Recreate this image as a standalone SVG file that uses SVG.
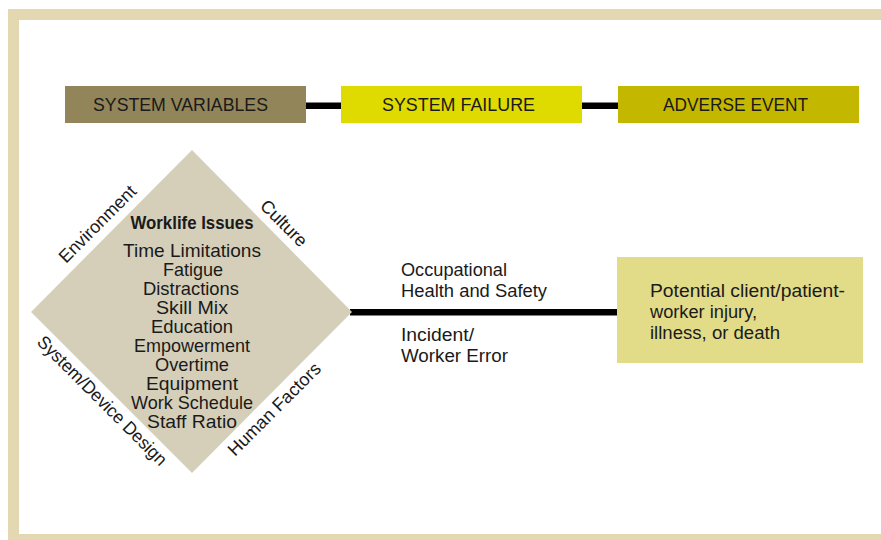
<svg xmlns="http://www.w3.org/2000/svg" width="881" height="540" viewBox="0 0 881 540">
  <style>
    text { font-family: "Liberation Sans", Arial, sans-serif; fill: #1a1a1a; }
    .hdr { font-size: 19px; }
    .lbl { font-size: 18.3px; }
    .list { font-size: 18.2px; text-anchor: middle; }
    .title { font-size: 18px; font-weight: bold; text-anchor: middle; }
    .side { font-size: 18px; }
    .conn { stroke: #000; stroke-width: 6.5; fill: none; }
  </style>

  <!-- page frame (open on the right) -->
  <rect x="13.5" y="14.5" width="900" height="525" fill="#ffffff" stroke="#e3d8b1" stroke-width="11"/>

  <!-- connectors -->
  <g id="connectors">
    <line class="conn" x1="305" y1="105.8" x2="342" y2="105.8"/>
    <line class="conn" x1="581" y1="105.8" x2="619" y2="105.8"/>
    <line class="conn" x1="350" y1="312.2" x2="618" y2="312.2"/>
  </g>

  <!-- stage headers -->
  <g id="system-variables">
    <rect x="65" y="86" width="241" height="37" fill="#918559"/>
    <text class="hdr" x="93" y="110.5" textLength="175" lengthAdjust="spacingAndGlyphs">SYSTEM VARIABLES</text>
  </g>
  <g id="system-failure">
    <rect x="341" y="86" width="241" height="37" fill="#dfdb00"/>
    <text class="hdr" x="382" y="110.5" textLength="153" lengthAdjust="spacingAndGlyphs">SYSTEM FAILURE</text>
  </g>
  <g id="adverse-event">
    <rect x="618" y="86" width="241" height="37" fill="#c4b700"/>
    <text class="hdr" x="663" y="110.5" textLength="145" lengthAdjust="spacingAndGlyphs">ADVERSE EVENT</text>
  </g>

  <!-- worklife issues diamond -->
  <g id="worklife-issues">
    <polygon points="192,150 352,312 192,473 31,312" fill="#d5cfb9"/>
    <text class="title" x="192" y="229" textLength="123" lengthAdjust="spacingAndGlyphs">Worklife Issues</text>
    <text class="list" x="192" y="257" textLength="138" lengthAdjust="spacingAndGlyphs">Time Limitations</text>
    <text class="list" x="193" y="276" textLength="60" lengthAdjust="spacingAndGlyphs">Fatigue</text>
    <text class="list" x="191" y="295" textLength="96" lengthAdjust="spacingAndGlyphs">Distractions</text>
    <text class="list" x="192" y="314" textLength="72" lengthAdjust="spacingAndGlyphs">Skill Mix</text>
    <text class="list" x="192" y="333" textLength="82" lengthAdjust="spacingAndGlyphs">Education</text>
    <text class="list" x="192" y="352" textLength="116" lengthAdjust="spacingAndGlyphs">Empowerment</text>
    <text class="list" x="192" y="371" textLength="74" lengthAdjust="spacingAndGlyphs">Overtime</text>
    <text class="list" x="192" y="390" textLength="92" lengthAdjust="spacingAndGlyphs">Equipment</text>
    <text class="list" x="192" y="409" textLength="122" lengthAdjust="spacingAndGlyphs">Work Schedule</text>
    <text class="list" x="192" y="428" textLength="90" lengthAdjust="spacingAndGlyphs">Staff Ratio</text>
    <!-- edge captions -->
    <text class="side" transform="translate(66,264) rotate(-45)">Environment</text>
    <text class="side" transform="translate(259,207) rotate(45)">Culture</text>
    <text class="side" transform="translate(36,343) rotate(45)" textLength="175" lengthAdjust="spacingAndGlyphs">System/Device Design</text>
    <text class="side" transform="translate(235,457) rotate(-45)">Human Factors</text>
  </g>

  <!-- labels on the outcome line -->
  <g id="line-labels">
    <text class="lbl" x="401" y="276" textLength="106" lengthAdjust="spacingAndGlyphs">Occupational</text>
    <text class="lbl" x="401" y="297" textLength="146" lengthAdjust="spacingAndGlyphs">Health and Safety</text>
    <text class="lbl" x="401" y="341" textLength="73" lengthAdjust="spacingAndGlyphs">Incident/</text>
    <text class="lbl" x="401" y="362" textLength="107" lengthAdjust="spacingAndGlyphs">Worker Error</text>
  </g>

  <!-- outcome box -->
  <g id="outcome">
    <rect x="617" y="257" width="246" height="106" fill="#e2db88"/>
    <text class="lbl" x="650" y="297" textLength="195" lengthAdjust="spacingAndGlyphs">Potential client/patient-</text>
    <text class="lbl" x="650" y="318" textLength="107" lengthAdjust="spacingAndGlyphs">worker injury,</text>
    <text class="lbl" x="650" y="339" textLength="130" lengthAdjust="spacingAndGlyphs">illness, or death</text>
  </g>
</svg>
